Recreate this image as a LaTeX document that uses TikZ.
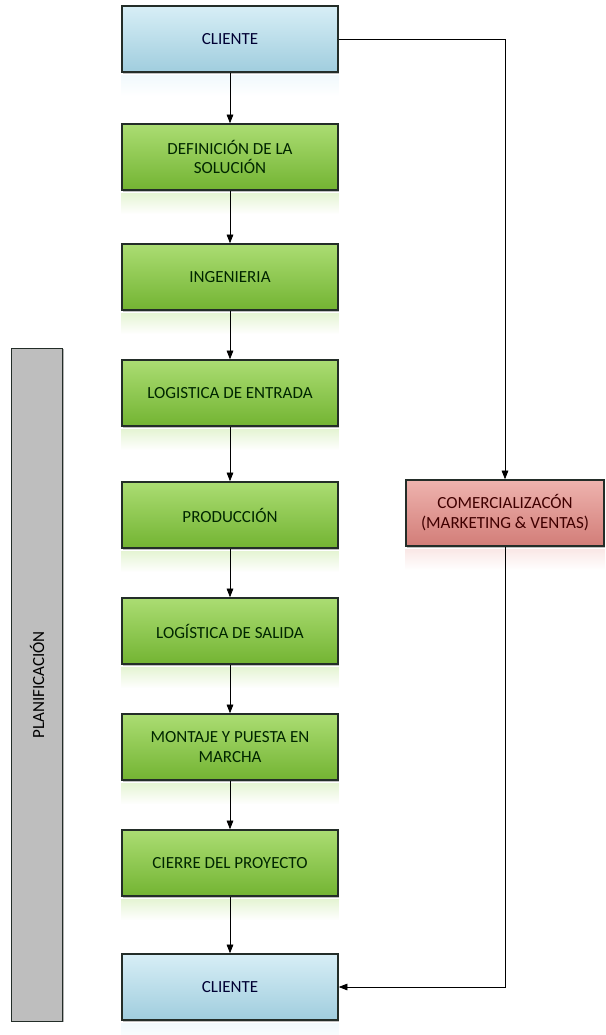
\documentclass[tikz,border=0pt]{standalone}
\usepackage{fontspec}
\setmainfont{Carlito}
\usepackage{tikz}
\usetikzlibrary{arrows.meta,positioning,calc,shadows}
\definecolor{clientblue}{RGB}{198,231,242}
\definecolor{clientbluedark}{RGB}{160,205,222}
\definecolor{stepgreen}{RGB}{150,212,80}
\definecolor{stepgreendark}{RGB}{115,180,50}
\definecolor{salesred}{RGB}{234,160,154}
\definecolor{salesreddark}{RGB}{210,125,120}
\definecolor{planGrey}{RGB}{190,190,190}
\definecolor{edgedark}{RGB}{35,45,40}

\begin{document}
\begin{tikzpicture}[
    x=0.03cm, y=-0.03cm,
    box/.style={rectangle, draw=edgedark, line width=1.3pt, minimum width=6.48cm, minimum height=1.98cm, align=center, font=\fontsize{14.5}{17}\selectfont, drop shadow={shadow xshift=0.5pt, shadow yshift=-1.5pt, opacity=0.5}},
    clientbox/.style={box, top color=clientblue!70!white, bottom color=clientbluedark, text=black!80!blue},
    stepbox/.style={box, top color=stepgreen!80!white, bottom color=stepgreendark, text=black!85!green},
    salesbox/.style={box, minimum width=5.94cm, top color=salesred!80!white, bottom color=salesreddark, text=black!75!red},
    flow/.style={-{Triangle[length=2.6mm,width=2mm]}, semithick}
]
\useasboundingbox (0,0) rectangle (605,1035);

% main chain
\node[clientbox] (cliTop) at (230,39) {CLIENTE};
\node[stepbox] (defSol) at (230,157) {DEFINICIÓN DE LA\\SOLUCIÓN};
\node[stepbox] (ing) at (230,277) {INGENIERIA};
\node[stepbox] (logIn) at (230,393) {LOGISTICA DE ENTRADA};
\node[stepbox] (prod) at (230,515) {PRODUCCIÓN};
\node[stepbox] (logOut) at (230,631) {LOGÍSTICA DE SALIDA};
\node[stepbox] (mont) at (230,747) {MONTAJE Y PUESTA EN\\MARCHA};
\node[stepbox] (cierre) at (230,863) {CIERRE DEL PROYECTO};
\node[clientbox] (cliBot) at (230,987) {CLIENTE};

% side boxes
\node[salesbox] (com) at (505,513) {COMERCIALIZACÓN\\(MARKETING \& VENTAS)};
\node[rectangle, draw=edgedark, line width=1pt, fill=planGrey, minimum width=1.53cm, minimum height=20.2cm, drop shadow={shadow xshift=1.5pt, shadow yshift=-0.5pt, opacity=0.6}] (plan) at (37,685) {};
\node[rotate=90, font=\fontsize{14.5}{17}\selectfont] (planText) at (plan.center) {PLANIFICACIÓN};

% reflections
\foreach \n/\c in {cliTop/clientblue, defSol/stepgreen, ing/stepgreen, logIn/stepgreen, prod/stepgreen, logOut/stepgreen, mont/stepgreen, cierre/stepgreen, cliBot/clientblue, com/salesred}
  \shade[top color=\c!25!white, bottom color=white] ([yshift=-2pt]\n.south west) rectangle ([yshift=-20pt]\n.south east);

% connectors
\draw[flow] (cliTop) -- (defSol);
\draw[flow] (defSol) -- (ing);
\draw[flow] (ing) -- (logIn);
\draw[flow] (logIn) -- (prod);
\draw[flow] (prod) -- (logOut);
\draw[flow] (logOut) -- (mont);
\draw[flow] (mont) -- (cierre);
\draw[flow] (cierre) -- (cliBot);
\draw[flow] (cliTop.east) -| (com.north);
\draw[flow] (com.south) |- (cliBot.east);
\end{tikzpicture}
\end{document}
